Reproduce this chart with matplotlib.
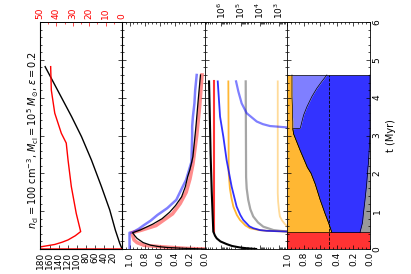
"""Cloud evolution panels, laid out sideways (time runs upwards)."""

import matplotlib

matplotlib.use("Agg")
import matplotlib.pyplot as plt
import numpy as np
from matplotlib.ticker import (FixedLocator, FormatStrFormatter, LogLocator,
                               MultipleLocator, NullFormatter)

# panel 1: black on the bottom axis (0-180), red on the top axis (0-50)
p1_t_black = [0.0, 0.02, 0.15, 0.5, 1.03, 1.65, 2.35, 2.97, 3.5, 4.16, 4.82]
p1_black = [0.0, 0.5, 5.0, 14.7, 27.0, 45.4, 67.4, 89.4, 111.3, 140.5, 169.7]
p1_t_red = [0.0, 0.001, 0.03, 0.06, 0.12, 0.18, 0.24, 0.35, 0.46, 0.94, 1.65, 2.35,
            2.8, 3.06, 3.59, 4.2, 4.82]
p1_red = [0.0, 80.0, 60.0, 49.2, 41.0, 36.5, 32.9, 28.5, 25.2, 27.9, 30.9, 32.9,
          34.0, 37.0, 41.0, 43.1, 43.5]

# panel 2: fractions
p2_t_black = [0.0, 0.005, 0.02, 0.04, 0.06, 0.1, 0.17, 0.28, 0.35, 0.43, 0.5, 0.66,
              0.8, 0.97, 1.15, 1.38, 1.65, 1.91, 2.1, 2.44, 3.24, 3.94, 4.6]
p2_black = [0.0, 0.08, 0.3, 0.5, 0.6, 0.72, 0.82, 0.9, 0.93, 0.96, 0.86, 0.69,
            0.57, 0.47, 0.39, 0.31, 0.26, 0.23, 0.2, 0.16, 0.12, 0.09, 0.06]
p2_t_red = [0.0, 0.005, 0.015, 0.06, 0.1, 0.17, 0.24, 0.43, 0.5, 0.62, 0.93, 1.2,
            1.5, 1.85, 2.25, 3.0, 3.8, 4.6]
p2_red = [0.0, 0.1, 0.25, 0.59, 0.81, 0.9, 0.94, 0.97, 0.84, 0.65, 0.43, 0.33,
          0.25, 0.2, 0.16, 0.11, 0.07, 0.04]
p2_t_blue = [0.0, 0.43, 0.44, 0.53, 0.63, 0.75, 0.9, 1.08, 1.3, 1.63, 1.83, 2.3,
             3.0, 3.24, 3.5, 3.85, 4.2, 4.6]
p2_blue = [1.0, 1.0, 0.96, 0.88, 0.81, 0.72, 0.63, 0.5, 0.38, 0.3, 0.25, 0.18,
           0.17, 0.17, 0.16, 0.14, 0.13, 0.11]

# panel 3: log10 of the plotted quantity
p3_t_black = [0.0, 0.02, 0.04, 0.08, 0.13, 0.2, 0.28, 0.35, 0.46, 1.5, 2.5, 3.5, 4.43]
p3_black = [4.2, 4.7, 5.04, 5.45, 5.73, 6.05, 6.24, 6.33, 6.42, 6.5, 6.56, 6.6, 6.64]
p3_t_red = [0.46, 4.43]
p3_red = [6.38, 6.38]
p3_t_blue = [0.46, 0.48, 0.5, 0.55, 0.6, 0.77, 0.9, 1.12, 1.65, 2.35, 2.97, 3.5, 4.43]
p3_blue = [2.5, 3.65, 4.0, 4.35, 4.55, 4.87, 5.02, 5.21, 5.47, 5.73, 5.9, 6.07, 6.19]
p3_t_orange = [0.46, 0.48, 0.5, 0.55, 0.62, 0.77, 0.9, 1.12, 1.35, 1.6, 2.0, 4.43]
p3_orange = [2.5, 3.65, 4.05, 4.52, 4.75, 5.04, 5.2, 5.38, 5.48, 5.56, 5.62, 5.64]
p3_t_gray = [0.46, 0.48, 0.5, 0.59, 0.7, 0.86, 1.05, 1.3, 1.6, 1.9, 4.43]
p3_gray = [2.5, 2.97, 3.3, 3.83, 4.1, 4.35, 4.5, 4.61, 4.69, 4.72, 4.74]
p3_t_lorange = [0.55, 0.6, 0.66, 0.75, 0.86, 1.0, 1.25, 1.48, 4.43]
p3_lorange = [2.5, 2.6, 2.71, 2.85, 2.97, 3.01, 3.06, 3.08, 3.08]
p3_t_lblue = [3.21, 3.25, 3.3, 3.37, 3.59, 3.85, 4.16, 4.43]
p3_lblue = [2.5, 3.48, 3.85, 4.17, 4.69, 4.95, 5.12, 5.24]

# panel 4: stacked fractions (edges measured from 0)
p4_t_red = [0.0, 0.44]
p4_t = [0.44, 0.7, 0.93, 1.3, 1.72, 2.0, 2.16, 2.24, 2.6, 3.04, 3.18, 3.19,
        3.37, 3.54, 3.76, 4.03, 4.25, 4.43, 4.6]
p4_gray = [0.12, 0.09, 0.08, 0.06, 0.04, 0.03, 0.025, 0.02, 0.01, 0.0, 0.0, 0.0,
           0.0, 0.0, 0.0, 0.0, 0.0, 0.0, 0.0]
p4_blue = [0.46, 0.5, 0.54, 0.6, 0.66, 0.71, 0.755, 0.77, 0.84, 0.92, 0.93, 0.84,
           0.82, 0.8, 0.76, 0.7, 0.64, 0.58, 0.52]
p4_lblue = [0.46, 0.5, 0.54, 0.6, 0.66, 0.71, 0.755, 0.77, 0.84, 0.92, 0.93, 0.93,
            0.93, 0.935, 0.935, 0.94, 0.94, 0.94, 0.94]
p4_dashed = 0.5

W, H = 411, 274
T0, T1 = 249, 22


def box(x0, x1):
    return [x0 / W, (H - T0) / H, (x1 - x0) / W, (T0 - T1) / H]


def style(ax):
    ax.set_ylim(0, 6)
    ax.yaxis.set_major_locator(MultipleLocator(1))
    ax.yaxis.set_minor_locator(MultipleLocator(0.2))
    ax.tick_params(axis="both", which="both", direction="in", top=True, right=True,
                   labelsize=6.5, width=0.5, labelleft=False, pad=2)
    ax.tick_params(which="major", length=3)
    ax.tick_params(which="minor", length=1.5)
    ax.tick_params(axis="x", labelrotation=90)
    for sp in ax.spines.values():
        sp.set_linewidth(0.6)


fig = plt.figure(figsize=(W / 100, H / 100), dpi=100)

ax1 = fig.add_axes(box(40, 122))
ax2 = fig.add_axes(box(122, 205))
ax3 = fig.add_axes(box(205, 287))
ax4 = fig.add_axes(box(287, 370))

# panel 1
ax1.plot(p1_black, p1_t_black, color="k", lw=1.0)
ax1.set_xlim(181, 0)
ax1.xaxis.set_major_locator(FixedLocator(np.arange(20, 181, 20)))
style(ax1)
ax1.tick_params(axis="x", labeltop=False)
ax1t = ax1.twiny()
ax1t.plot(p1_red, p1_t_red, color="red", lw=1.0)
ax1t.set_xlim(50, 0)
ax1t.xaxis.set_major_locator(MultipleLocator(10))
ax1t.xaxis.set_minor_locator(MultipleLocator(5))
ax1t.tick_params(axis="x", which="both", direction="in", labelsize=6.5, colors="red",
                 labelrotation=90, width=0.5, pad=2)
ax1t.tick_params(axis="x", which="major", length=3)
ax1t.tick_params(axis="x", which="minor", length=1.5)
ax1t.spines["top"].set_linewidth(0.6)
ax1.tick_params(axis="x", top=False)

# panel 2
ax2.plot(p2_red, p2_t_red, color="red", lw=2.6, alpha=0.45)
ax2.plot(p2_blue, p2_t_blue, color="blue", lw=1.8, alpha=0.5)
ax2.plot(p2_black, p2_t_black, color="k", lw=0.9)
ax2.set_xlim(1.1, 0)
ax2.xaxis.set_major_locator(MultipleLocator(0.2))
ax2.xaxis.set_minor_locator(MultipleLocator(0.05))
style(ax2)
ax2.xaxis.set_major_formatter(FormatStrFormatter("%.1f"))

# panel 3
ax3.set_xscale("log")
ax3.plot(10.0 ** np.array(p3_lorange), p3_t_lorange, color="orange", lw=1.3, alpha=0.4)
ax3.plot(10.0 ** np.array(p3_gray), p3_t_gray, color="gray", lw=1.6, alpha=0.7)
ax3.plot(10.0 ** np.array(p3_lblue), p3_t_lblue, color="blue", lw=1.6, alpha=0.5)
ax3.plot(10.0 ** np.array(p3_orange), p3_t_orange, color="orange", lw=1.3, alpha=0.8)
ax3.plot(10.0 ** np.array(p3_blue), p3_t_blue, color="blue", lw=1.3, alpha=0.8)
ax3.plot(10.0 ** np.array(p3_red), p3_t_red, color="red", lw=1.5, alpha=0.8)
ax3.plot(10.0 ** np.array(p3_black), p3_t_black, color="k", lw=1.5)
ax3.set_xlim(10 ** 6.85, 10 ** 2.6)
ax3.xaxis.set_major_locator(LogLocator(base=10, numticks=10))
ax3.xaxis.set_minor_locator(LogLocator(base=10, subs=np.arange(2, 10), numticks=10))
ax3.xaxis.set_minor_formatter(NullFormatter())
style(ax3)
ax3.tick_params(axis="x", labelbottom=False, labeltop=True)

# panel 4
ax4.fill_betweenx(p4_t_red, 0, 1, color="red", alpha=0.8, lw=0)
ax4.fill_betweenx(p4_t, 0, p4_gray, color="gray", alpha=0.8, lw=0)
ax4.fill_betweenx(p4_t, p4_gray, p4_blue, color="blue", alpha=0.8, lw=0)
ax4.fill_betweenx(p4_t, p4_blue, p4_lblue, color="blue", alpha=0.5, lw=0)
ax4.fill_betweenx(p4_t, p4_lblue, 1, color="orange", alpha=0.8, lw=0)
for edge in (p4_gray, p4_blue, p4_lblue):
    ax4.plot(edge, p4_t, color="k", lw=0.5)
ax4.plot([0, 1], [p4_t[0], p4_t[0]], color="k", lw=0.5)
ax4.plot([0, 1], [p4_t[-1], p4_t[-1]], color="k", lw=0.5)
ax4.plot([p4_dashed, p4_dashed], [0, p4_t[-1]], color="k", lw=0.6, ls="--")
ax4.set_xlim(1, 0)
ax4.xaxis.set_major_locator(MultipleLocator(0.2))
ax4.xaxis.set_minor_locator(MultipleLocator(0.05))
style(ax4)
ax4.xaxis.set_major_formatter(FormatStrFormatter("%.1f"))
ax4.tick_params(axis="y", labelright=True)
for lab in ax4.get_yticklabels():
    lab.set_rotation(90)
    lab.set_verticalalignment("center")
ax4.yaxis.set_label_position("right")
ax4.set_ylabel("t (Myr)", fontsize=7, rotation=90, labelpad=3)

fig.text(33 / W, (H - 140) / H,
         r"$n_{\rm cl}=100$ cm$^{-3}$, $M_{\rm cl}=10^5\ M_{\odot}$, $\epsilon=0.2$",
         rotation=90, ha="center", va="center", fontsize=7)

fig.savefig("out.png", dpi=100)
plt.close(fig)
